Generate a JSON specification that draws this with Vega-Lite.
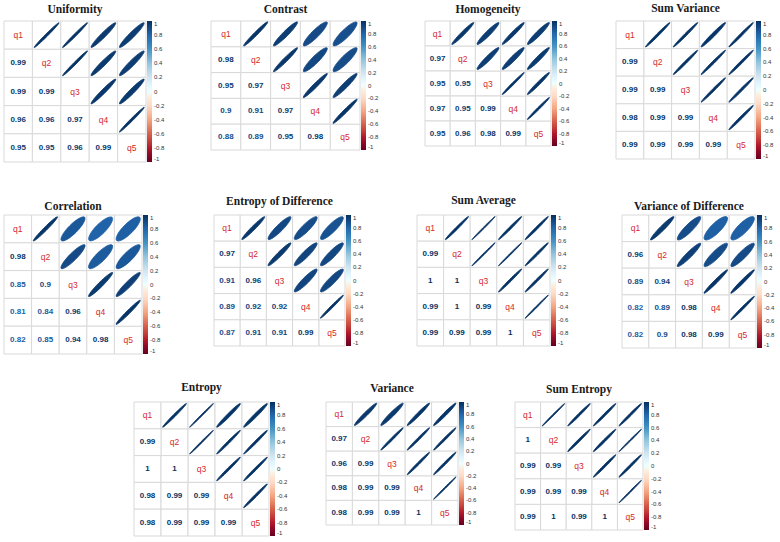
{
"$schema": "https://vega.github.io/schema/vega-lite/v6.json",
"background": "#ffffff",
"padding": {"left": 3, "top": 3, "right": 0, "bottom": 0},
"datasets": {
"uni": [
{"y":"q1","x":"q1","r":1,"k":"d"},{"y":"q2","x":"q2","r":1,"k":"d"},{"y":"q3","x":"q3","r":1,"k":"d"},{"y":"q4","x":"q4","r":1,"k":"d"},{"y":"q5","x":"q5","r":1,"k":"d"},
{"y":"q2","x":"q1","r":0.99,"k":"n"},{"y":"q3","x":"q1","r":0.99,"k":"n"},{"y":"q3","x":"q2","r":0.99,"k":"n"},{"y":"q4","x":"q1","r":0.96,"k":"n"},{"y":"q4","x":"q2","r":0.96,"k":"n"},{"y":"q4","x":"q3","r":0.97,"k":"n"},{"y":"q5","x":"q1","r":0.95,"k":"n"},{"y":"q5","x":"q2","r":0.95,"k":"n"},{"y":"q5","x":"q3","r":0.96,"k":"n"},{"y":"q5","x":"q4","r":0.99,"k":"n"},
{"y":"q1","x":"q2","r":0.99,"k":"e"},{"y":"q1","x":"q3","r":0.99,"k":"e"},{"y":"q2","x":"q3","r":0.99,"k":"e"},{"y":"q1","x":"q4","r":0.96,"k":"e"},{"y":"q2","x":"q4","r":0.96,"k":"e"},{"y":"q3","x":"q4","r":0.97,"k":"e"},{"y":"q1","x":"q5","r":0.95,"k":"e"},{"y":"q2","x":"q5","r":0.95,"k":"e"},{"y":"q3","x":"q5","r":0.96,"k":"e"},{"y":"q4","x":"q5","r":0.99,"k":"e"}
],
"con": [
{"y":"q1","x":"q1","r":1,"k":"d"},{"y":"q2","x":"q2","r":1,"k":"d"},{"y":"q3","x":"q3","r":1,"k":"d"},{"y":"q4","x":"q4","r":1,"k":"d"},{"y":"q5","x":"q5","r":1,"k":"d"},
{"y":"q2","x":"q1","r":0.98,"k":"n"},{"y":"q3","x":"q1","r":0.95,"k":"n"},{"y":"q3","x":"q2","r":0.97,"k":"n"},{"y":"q4","x":"q1","r":0.9,"k":"n"},{"y":"q4","x":"q2","r":0.91,"k":"n"},{"y":"q4","x":"q3","r":0.97,"k":"n"},{"y":"q5","x":"q1","r":0.88,"k":"n"},{"y":"q5","x":"q2","r":0.89,"k":"n"},{"y":"q5","x":"q3","r":0.95,"k":"n"},{"y":"q5","x":"q4","r":0.98,"k":"n"},
{"y":"q1","x":"q2","r":0.98,"k":"e"},{"y":"q1","x":"q3","r":0.95,"k":"e"},{"y":"q2","x":"q3","r":0.97,"k":"e"},{"y":"q1","x":"q4","r":0.9,"k":"e"},{"y":"q2","x":"q4","r":0.91,"k":"e"},{"y":"q3","x":"q4","r":0.97,"k":"e"},{"y":"q1","x":"q5","r":0.88,"k":"e"},{"y":"q2","x":"q5","r":0.89,"k":"e"},{"y":"q3","x":"q5","r":0.95,"k":"e"},{"y":"q4","x":"q5","r":0.98,"k":"e"}
],
"hom": [
{"y":"q1","x":"q1","r":1,"k":"d"},{"y":"q2","x":"q2","r":1,"k":"d"},{"y":"q3","x":"q3","r":1,"k":"d"},{"y":"q4","x":"q4","r":1,"k":"d"},{"y":"q5","x":"q5","r":1,"k":"d"},
{"y":"q2","x":"q1","r":0.97,"k":"n"},{"y":"q3","x":"q1","r":0.95,"k":"n"},{"y":"q3","x":"q2","r":0.95,"k":"n"},{"y":"q4","x":"q1","r":0.97,"k":"n"},{"y":"q4","x":"q2","r":0.95,"k":"n"},{"y":"q4","x":"q3","r":0.99,"k":"n"},{"y":"q5","x":"q1","r":0.95,"k":"n"},{"y":"q5","x":"q2","r":0.96,"k":"n"},{"y":"q5","x":"q3","r":0.98,"k":"n"},{"y":"q5","x":"q4","r":0.99,"k":"n"},
{"y":"q1","x":"q2","r":0.97,"k":"e"},{"y":"q1","x":"q3","r":0.95,"k":"e"},{"y":"q2","x":"q3","r":0.95,"k":"e"},{"y":"q1","x":"q4","r":0.97,"k":"e"},{"y":"q2","x":"q4","r":0.95,"k":"e"},{"y":"q3","x":"q4","r":0.99,"k":"e"},{"y":"q1","x":"q5","r":0.95,"k":"e"},{"y":"q2","x":"q5","r":0.96,"k":"e"},{"y":"q3","x":"q5","r":0.98,"k":"e"},{"y":"q4","x":"q5","r":0.99,"k":"e"}
],
"sva": [
{"y":"q1","x":"q1","r":1,"k":"d"},{"y":"q2","x":"q2","r":1,"k":"d"},{"y":"q3","x":"q3","r":1,"k":"d"},{"y":"q4","x":"q4","r":1,"k":"d"},{"y":"q5","x":"q5","r":1,"k":"d"},
{"y":"q2","x":"q1","r":0.99,"k":"n"},{"y":"q3","x":"q1","r":0.99,"k":"n"},{"y":"q3","x":"q2","r":0.99,"k":"n"},{"y":"q4","x":"q1","r":0.98,"k":"n"},{"y":"q4","x":"q2","r":0.99,"k":"n"},{"y":"q4","x":"q3","r":0.99,"k":"n"},{"y":"q5","x":"q1","r":0.99,"k":"n"},{"y":"q5","x":"q2","r":0.99,"k":"n"},{"y":"q5","x":"q3","r":0.99,"k":"n"},{"y":"q5","x":"q4","r":0.99,"k":"n"},
{"y":"q1","x":"q2","r":0.99,"k":"e"},{"y":"q1","x":"q3","r":0.99,"k":"e"},{"y":"q2","x":"q3","r":0.99,"k":"e"},{"y":"q1","x":"q4","r":0.98,"k":"e"},{"y":"q2","x":"q4","r":0.99,"k":"e"},{"y":"q3","x":"q4","r":0.99,"k":"e"},{"y":"q1","x":"q5","r":0.99,"k":"e"},{"y":"q2","x":"q5","r":0.99,"k":"e"},{"y":"q3","x":"q5","r":0.99,"k":"e"},{"y":"q4","x":"q5","r":0.99,"k":"e"}
],
"cor": [
{"y":"q1","x":"q1","r":1,"k":"d"},{"y":"q2","x":"q2","r":1,"k":"d"},{"y":"q3","x":"q3","r":1,"k":"d"},{"y":"q4","x":"q4","r":1,"k":"d"},{"y":"q5","x":"q5","r":1,"k":"d"},
{"y":"q2","x":"q1","r":0.98,"k":"n"},{"y":"q3","x":"q1","r":0.85,"k":"n"},{"y":"q3","x":"q2","r":0.9,"k":"n"},{"y":"q4","x":"q1","r":0.81,"k":"n"},{"y":"q4","x":"q2","r":0.84,"k":"n"},{"y":"q4","x":"q3","r":0.96,"k":"n"},{"y":"q5","x":"q1","r":0.82,"k":"n"},{"y":"q5","x":"q2","r":0.85,"k":"n"},{"y":"q5","x":"q3","r":0.94,"k":"n"},{"y":"q5","x":"q4","r":0.98,"k":"n"},
{"y":"q1","x":"q2","r":0.98,"k":"e"},{"y":"q1","x":"q3","r":0.85,"k":"e"},{"y":"q2","x":"q3","r":0.9,"k":"e"},{"y":"q1","x":"q4","r":0.81,"k":"e"},{"y":"q2","x":"q4","r":0.84,"k":"e"},{"y":"q3","x":"q4","r":0.96,"k":"e"},{"y":"q1","x":"q5","r":0.82,"k":"e"},{"y":"q2","x":"q5","r":0.85,"k":"e"},{"y":"q3","x":"q5","r":0.94,"k":"e"},{"y":"q4","x":"q5","r":0.98,"k":"e"}
],
"eod": [
{"y":"q1","x":"q1","r":1,"k":"d"},{"y":"q2","x":"q2","r":1,"k":"d"},{"y":"q3","x":"q3","r":1,"k":"d"},{"y":"q4","x":"q4","r":1,"k":"d"},{"y":"q5","x":"q5","r":1,"k":"d"},
{"y":"q2","x":"q1","r":0.97,"k":"n"},{"y":"q3","x":"q1","r":0.91,"k":"n"},{"y":"q3","x":"q2","r":0.96,"k":"n"},{"y":"q4","x":"q1","r":0.89,"k":"n"},{"y":"q4","x":"q2","r":0.92,"k":"n"},{"y":"q4","x":"q3","r":0.92,"k":"n"},{"y":"q5","x":"q1","r":0.87,"k":"n"},{"y":"q5","x":"q2","r":0.91,"k":"n"},{"y":"q5","x":"q3","r":0.91,"k":"n"},{"y":"q5","x":"q4","r":0.99,"k":"n"},
{"y":"q1","x":"q2","r":0.97,"k":"e"},{"y":"q1","x":"q3","r":0.91,"k":"e"},{"y":"q2","x":"q3","r":0.96,"k":"e"},{"y":"q1","x":"q4","r":0.89,"k":"e"},{"y":"q2","x":"q4","r":0.92,"k":"e"},{"y":"q3","x":"q4","r":0.92,"k":"e"},{"y":"q1","x":"q5","r":0.87,"k":"e"},{"y":"q2","x":"q5","r":0.91,"k":"e"},{"y":"q3","x":"q5","r":0.91,"k":"e"},{"y":"q4","x":"q5","r":0.99,"k":"e"}
],
"sav": [
{"y":"q1","x":"q1","r":1,"k":"d"},{"y":"q2","x":"q2","r":1,"k":"d"},{"y":"q3","x":"q3","r":1,"k":"d"},{"y":"q4","x":"q4","r":1,"k":"d"},{"y":"q5","x":"q5","r":1,"k":"d"},
{"y":"q2","x":"q1","r":0.99,"k":"n"},{"y":"q3","x":"q1","r":1,"k":"n"},{"y":"q3","x":"q2","r":1,"k":"n"},{"y":"q4","x":"q1","r":0.99,"k":"n"},{"y":"q4","x":"q2","r":1,"k":"n"},{"y":"q4","x":"q3","r":0.99,"k":"n"},{"y":"q5","x":"q1","r":0.99,"k":"n"},{"y":"q5","x":"q2","r":0.99,"k":"n"},{"y":"q5","x":"q3","r":0.99,"k":"n"},{"y":"q5","x":"q4","r":1,"k":"n"},
{"y":"q1","x":"q2","r":0.99,"k":"e"},{"y":"q1","x":"q3","r":1,"k":"e"},{"y":"q2","x":"q3","r":1,"k":"e"},{"y":"q1","x":"q4","r":0.99,"k":"e"},{"y":"q2","x":"q4","r":1,"k":"e"},{"y":"q3","x":"q4","r":0.99,"k":"e"},{"y":"q1","x":"q5","r":0.99,"k":"e"},{"y":"q2","x":"q5","r":0.99,"k":"e"},{"y":"q3","x":"q5","r":0.99,"k":"e"},{"y":"q4","x":"q5","r":1,"k":"e"}
],
"vod": [
{"y":"q1","x":"q1","r":1,"k":"d"},{"y":"q2","x":"q2","r":1,"k":"d"},{"y":"q3","x":"q3","r":1,"k":"d"},{"y":"q4","x":"q4","r":1,"k":"d"},{"y":"q5","x":"q5","r":1,"k":"d"},
{"y":"q2","x":"q1","r":0.96,"k":"n"},{"y":"q3","x":"q1","r":0.89,"k":"n"},{"y":"q3","x":"q2","r":0.94,"k":"n"},{"y":"q4","x":"q1","r":0.82,"k":"n"},{"y":"q4","x":"q2","r":0.89,"k":"n"},{"y":"q4","x":"q3","r":0.98,"k":"n"},{"y":"q5","x":"q1","r":0.82,"k":"n"},{"y":"q5","x":"q2","r":0.9,"k":"n"},{"y":"q5","x":"q3","r":0.98,"k":"n"},{"y":"q5","x":"q4","r":0.99,"k":"n"},
{"y":"q1","x":"q2","r":0.96,"k":"e"},{"y":"q1","x":"q3","r":0.89,"k":"e"},{"y":"q2","x":"q3","r":0.94,"k":"e"},{"y":"q1","x":"q4","r":0.82,"k":"e"},{"y":"q2","x":"q4","r":0.89,"k":"e"},{"y":"q3","x":"q4","r":0.98,"k":"e"},{"y":"q1","x":"q5","r":0.82,"k":"e"},{"y":"q2","x":"q5","r":0.9,"k":"e"},{"y":"q3","x":"q5","r":0.98,"k":"e"},{"y":"q4","x":"q5","r":0.99,"k":"e"}
],
"ent": [
{"y":"q1","x":"q1","r":1,"k":"d"},{"y":"q2","x":"q2","r":1,"k":"d"},{"y":"q3","x":"q3","r":1,"k":"d"},{"y":"q4","x":"q4","r":1,"k":"d"},{"y":"q5","x":"q5","r":1,"k":"d"},
{"y":"q2","x":"q1","r":0.99,"k":"n"},{"y":"q3","x":"q1","r":1,"k":"n"},{"y":"q3","x":"q2","r":1,"k":"n"},{"y":"q4","x":"q1","r":0.98,"k":"n"},{"y":"q4","x":"q2","r":0.99,"k":"n"},{"y":"q4","x":"q3","r":0.99,"k":"n"},{"y":"q5","x":"q1","r":0.98,"k":"n"},{"y":"q5","x":"q2","r":0.99,"k":"n"},{"y":"q5","x":"q3","r":0.99,"k":"n"},{"y":"q5","x":"q4","r":0.99,"k":"n"},
{"y":"q1","x":"q2","r":0.99,"k":"e"},{"y":"q1","x":"q3","r":1,"k":"e"},{"y":"q2","x":"q3","r":1,"k":"e"},{"y":"q1","x":"q4","r":0.98,"k":"e"},{"y":"q2","x":"q4","r":0.99,"k":"e"},{"y":"q3","x":"q4","r":0.99,"k":"e"},{"y":"q1","x":"q5","r":0.98,"k":"e"},{"y":"q2","x":"q5","r":0.99,"k":"e"},{"y":"q3","x":"q5","r":0.99,"k":"e"},{"y":"q4","x":"q5","r":0.99,"k":"e"}
],
"var": [
{"y":"q1","x":"q1","r":1,"k":"d"},{"y":"q2","x":"q2","r":1,"k":"d"},{"y":"q3","x":"q3","r":1,"k":"d"},{"y":"q4","x":"q4","r":1,"k":"d"},{"y":"q5","x":"q5","r":1,"k":"d"},
{"y":"q2","x":"q1","r":0.97,"k":"n"},{"y":"q3","x":"q1","r":0.96,"k":"n"},{"y":"q3","x":"q2","r":0.99,"k":"n"},{"y":"q4","x":"q1","r":0.98,"k":"n"},{"y":"q4","x":"q2","r":0.99,"k":"n"},{"y":"q4","x":"q3","r":0.99,"k":"n"},{"y":"q5","x":"q1","r":0.98,"k":"n"},{"y":"q5","x":"q2","r":0.99,"k":"n"},{"y":"q5","x":"q3","r":0.99,"k":"n"},{"y":"q5","x":"q4","r":1,"k":"n"},
{"y":"q1","x":"q2","r":0.97,"k":"e"},{"y":"q1","x":"q3","r":0.96,"k":"e"},{"y":"q2","x":"q3","r":0.99,"k":"e"},{"y":"q1","x":"q4","r":0.98,"k":"e"},{"y":"q2","x":"q4","r":0.99,"k":"e"},{"y":"q3","x":"q4","r":0.99,"k":"e"},{"y":"q1","x":"q5","r":0.98,"k":"e"},{"y":"q2","x":"q5","r":0.99,"k":"e"},{"y":"q3","x":"q5","r":0.99,"k":"e"},{"y":"q4","x":"q5","r":1,"k":"e"}
],
"sen": [
{"y":"q1","x":"q1","r":1,"k":"d"},{"y":"q2","x":"q2","r":1,"k":"d"},{"y":"q3","x":"q3","r":1,"k":"d"},{"y":"q4","x":"q4","r":1,"k":"d"},{"y":"q5","x":"q5","r":1,"k":"d"},
{"y":"q2","x":"q1","r":1,"k":"n"},{"y":"q3","x":"q1","r":0.99,"k":"n"},{"y":"q3","x":"q2","r":0.99,"k":"n"},{"y":"q4","x":"q1","r":0.99,"k":"n"},{"y":"q4","x":"q2","r":0.99,"k":"n"},{"y":"q4","x":"q3","r":0.99,"k":"n"},{"y":"q5","x":"q1","r":0.99,"k":"n"},{"y":"q5","x":"q2","r":1,"k":"n"},{"y":"q5","x":"q3","r":0.99,"k":"n"},{"y":"q5","x":"q4","r":1,"k":"n"},
{"y":"q1","x":"q2","r":1,"k":"e"},{"y":"q1","x":"q3","r":0.99,"k":"e"},{"y":"q2","x":"q3","r":0.99,"k":"e"},{"y":"q1","x":"q4","r":0.99,"k":"e"},{"y":"q2","x":"q4","r":0.99,"k":"e"},{"y":"q3","x":"q4","r":0.99,"k":"e"},{"y":"q1","x":"q5","r":0.99,"k":"e"},{"y":"q2","x":"q5","r":1,"k":"e"},{"y":"q3","x":"q5","r":0.99,"k":"e"},{"y":"q4","x":"q5","r":1,"k":"e"}
]
},
"spacing": 32,
"resolve": {"scale": {"color": "independent"}},
"vconcat": [
{
"hconcat": [
{"title": {"text": "Uniformity", "offset": 5}, "width": 142, "height": 141, "data": {"name": "uni"},
 "encoding": {"x": {"field": "x", "type": "nominal", "axis": null, "scale": {"domain": ["q1","q2","q3","q4","q5"], "paddingInner": 0, "paddingOuter": 0}}, "y": {"field": "y", "type": "nominal", "axis": null, "scale": {"domain": ["q1","q2","q3","q4","q5"], "paddingInner": 0, "paddingOuter": 0}}},
 "layer": [
  {"mark": {"type": "rect", "fill": "#ffffff", "stroke": "#d9d9d9", "strokeWidth": 1}},
  {"transform": [{"filter": "datum.k == 'n'"}], "mark": {"type": "text", "fontSize": 8, "fontWeight": "bold"}, "encoding": {"text": {"field": "r", "type": "nominal"}, "color": {"field": "r", "type": "quantitative", "scale": {"type": "linear", "domain": [-1,-0.8,-0.6,-0.4,-0.2,0,0.2,0.4,0.6,0.8,1], "range": ["#67001F","#B2182B","#D6604D","#F4A582","#FDDBC7","#FFFFFF","#D1E5F0","#92C5DE","#4393C3","#2166AC","#053061"]}, "legend": {"title": null, "values": [-1,-0.8,-0.6,-0.4,-0.2,0,0.2,0.4,0.6,0.8,1], "gradientLength": 141, "labelExpr": "'' + datum.value"}}}},
  {"transform": [{"filter": "datum.k == 'd'"}], "mark": {"type": "text", "fontSize": 8.5, "color": "#d42a2a"}, "encoding": {"text": {"field": "y", "type": "nominal"}}},
  {"transform": [{"filter": "datum.k == 'e'"}], "mark": {"type": "point", "filled": true, "opacity": 1, "size": 801, "strokeWidth": 0.8}, "encoding": {"shape": {"field": "r", "type": "nominal", "scale": {"domain": [0.81,0.82,0.84,0.85,0.87,0.88,0.89,0.9,0.91,0.92,0.94,0.95,0.96,0.97,0.98,0.99,1]}, "legend": null}, "color": {"field": "r", "type": "quantitative"}, "stroke": {"field": "r", "type": "quantitative", "scale": {"type": "linear", "domain": [-1,-0.8,-0.6,-0.4,-0.2,0,0.2,0.4,0.6,0.8,1], "range": ["#67001F","#B2182B","#D6604D","#F4A582","#FDDBC7","#FFFFFF","#D1E5F0","#92C5DE","#4393C3","#2166AC","#053061"]}, "legend": null}}}
 ]},
{"title": {"text": "Contrast", "offset": 5}, "width": 149, "height": 129, "data": {"name": "con"},
 "encoding": {"x": {"field": "x", "type": "nominal", "axis": null, "scale": {"domain": ["q1","q2","q3","q4","q5"], "paddingInner": 0, "paddingOuter": 0}}, "y": {"field": "y", "type": "nominal", "axis": null, "scale": {"domain": ["q1","q2","q3","q4","q5"], "paddingInner": 0, "paddingOuter": 0}}},
 "layer": [
  {"mark": {"type": "rect", "fill": "#ffffff", "stroke": "#d9d9d9", "strokeWidth": 1}},
  {"transform": [{"filter": "datum.k == 'n'"}], "mark": {"type": "text", "fontSize": 8, "fontWeight": "bold"}, "encoding": {"text": {"field": "r", "type": "nominal"}, "color": {"field": "r", "type": "quantitative", "scale": {"type": "linear", "domain": [-1,-0.8,-0.6,-0.4,-0.2,0,0.2,0.4,0.6,0.8,1], "range": ["#67001F","#B2182B","#D6604D","#F4A582","#FDDBC7","#FFFFFF","#D1E5F0","#92C5DE","#4393C3","#2166AC","#053061"]}, "legend": {"title": null, "values": [-1,-0.8,-0.6,-0.4,-0.2,0,0.2,0.4,0.6,0.8,1], "gradientLength": 129, "labelExpr": "'' + datum.value"}}}},
  {"transform": [{"filter": "datum.k == 'd'"}], "mark": {"type": "text", "fontSize": 8.5, "color": "#d42a2a"}, "encoding": {"text": {"field": "y", "type": "nominal"}}},
  {"transform": [{"filter": "datum.k == 'e'"}], "mark": {"type": "point", "filled": true, "opacity": 1, "size": 756, "strokeWidth": 0.8}, "encoding": {"shape": {"field": "r", "type": "nominal", "scale": {"domain": [0.81,0.82,0.84,0.85,0.87,0.88,0.89,0.9,0.91,0.92,0.94,0.95,0.96,0.97,0.98,0.99,1]}, "legend": null}, "color": {"field": "r", "type": "quantitative"}, "stroke": {"field": "r", "type": "quantitative", "scale": {"type": "linear", "domain": [-1,-0.8,-0.6,-0.4,-0.2,0,0.2,0.4,0.6,0.8,1], "range": ["#67001F","#B2182B","#D6604D","#F4A582","#FDDBC7","#FFFFFF","#D1E5F0","#92C5DE","#4393C3","#2166AC","#053061"]}, "legend": null}}}
 ]},
{"title": {"text": "Homogeneity", "offset": 5}, "width": 126, "height": 125, "data": {"name": "hom"},
 "encoding": {"x": {"field": "x", "type": "nominal", "axis": null, "scale": {"domain": ["q1","q2","q3","q4","q5"], "paddingInner": 0, "paddingOuter": 0}}, "y": {"field": "y", "type": "nominal", "axis": null, "scale": {"domain": ["q1","q2","q3","q4","q5"], "paddingInner": 0, "paddingOuter": 0}}},
 "layer": [
  {"mark": {"type": "rect", "fill": "#ffffff", "stroke": "#d9d9d9", "strokeWidth": 1}},
  {"transform": [{"filter": "datum.k == 'n'"}], "mark": {"type": "text", "fontSize": 8, "fontWeight": "bold"}, "encoding": {"text": {"field": "r", "type": "nominal"}, "color": {"field": "r", "type": "quantitative", "scale": {"type": "linear", "domain": [-1,-0.8,-0.6,-0.4,-0.2,0,0.2,0.4,0.6,0.8,1], "range": ["#67001F","#B2182B","#D6604D","#F4A582","#FDDBC7","#FFFFFF","#D1E5F0","#92C5DE","#4393C3","#2166AC","#053061"]}, "legend": {"title": null, "values": [-1,-0.8,-0.6,-0.4,-0.2,0,0.2,0.4,0.6,0.8,1], "gradientLength": 125, "labelExpr": "'' + datum.value"}}}},
  {"transform": [{"filter": "datum.k == 'd'"}], "mark": {"type": "text", "fontSize": 8.5, "color": "#d42a2a"}, "encoding": {"text": {"field": "y", "type": "nominal"}}},
  {"transform": [{"filter": "datum.k == 'e'"}], "mark": {"type": "point", "filled": true, "opacity": 1, "size": 630, "strokeWidth": 0.8}, "encoding": {"shape": {"field": "r", "type": "nominal", "scale": {"domain": [0.81,0.82,0.84,0.85,0.87,0.88,0.89,0.9,0.91,0.92,0.94,0.95,0.96,0.97,0.98,0.99,1]}, "legend": null}, "color": {"field": "r", "type": "quantitative"}, "stroke": {"field": "r", "type": "quantitative", "scale": {"type": "linear", "domain": [-1,-0.8,-0.6,-0.4,-0.2,0,0.2,0.4,0.6,0.8,1], "range": ["#67001F","#B2182B","#D6604D","#F4A582","#FDDBC7","#FFFFFF","#D1E5F0","#92C5DE","#4393C3","#2166AC","#053061"]}, "legend": null}}}
 ]},
{"title": {"text": "Sum Variance", "offset": 6}, "width": 139, "height": 138, "data": {"name": "sva"},
 "encoding": {"x": {"field": "x", "type": "nominal", "axis": null, "scale": {"domain": ["q1","q2","q3","q4","q5"], "paddingInner": 0, "paddingOuter": 0}}, "y": {"field": "y", "type": "nominal", "axis": null, "scale": {"domain": ["q1","q2","q3","q4","q5"], "paddingInner": 0, "paddingOuter": 0}}},
 "layer": [
  {"mark": {"type": "rect", "fill": "#ffffff", "stroke": "#d9d9d9", "strokeWidth": 1}},
  {"transform": [{"filter": "datum.k == 'n'"}], "mark": {"type": "text", "fontSize": 8, "fontWeight": "bold"}, "encoding": {"text": {"field": "r", "type": "nominal"}, "color": {"field": "r", "type": "quantitative", "scale": {"type": "linear", "domain": [-1,-0.8,-0.6,-0.4,-0.2,0,0.2,0.4,0.6,0.8,1], "range": ["#67001F","#B2182B","#D6604D","#F4A582","#FDDBC7","#FFFFFF","#D1E5F0","#92C5DE","#4393C3","#2166AC","#053061"]}, "legend": {"title": null, "values": [-1,-0.8,-0.6,-0.4,-0.2,0,0.2,0.4,0.6,0.8,1], "gradientLength": 138, "labelExpr": "'' + datum.value"}}}},
  {"transform": [{"filter": "datum.k == 'd'"}], "mark": {"type": "text", "fontSize": 8.5, "color": "#d42a2a"}, "encoding": {"text": {"field": "y", "type": "nominal"}}},
  {"transform": [{"filter": "datum.k == 'e'"}], "mark": {"type": "point", "filled": true, "opacity": 1, "size": 773, "strokeWidth": 0.8}, "encoding": {"shape": {"field": "r", "type": "nominal", "scale": {"domain": [0.81,0.82,0.84,0.85,0.87,0.88,0.89,0.9,0.91,0.92,0.94,0.95,0.96,0.97,0.98,0.99,1]}, "legend": null}, "color": {"field": "r", "type": "quantitative"}, "stroke": {"field": "r", "type": "quantitative", "scale": {"type": "linear", "domain": [-1,-0.8,-0.6,-0.4,-0.2,0,0.2,0.4,0.6,0.8,1], "range": ["#67001F","#B2182B","#D6604D","#F4A582","#FDDBC7","#FFFFFF","#D1E5F0","#92C5DE","#4393C3","#2166AC","#053061"]}, "legend": null}}}
 ]}
],
"spacing": 45,
"resolve": {"scale": {"color": "independent"}}
},
{
"spacing": 27,
"resolve": {"scale": {"color": "independent"}},
"vconcat": [
{
"hconcat": [
{"title": {"text": "Correlation", "offset": 2}, "width": 138, "height": 139, "data": {"name": "cor"},
 "encoding": {"x": {"field": "x", "type": "nominal", "axis": null, "scale": {"domain": ["q1","q2","q3","q4","q5"], "paddingInner": 0, "paddingOuter": 0}}, "y": {"field": "y", "type": "nominal", "axis": null, "scale": {"domain": ["q1","q2","q3","q4","q5"], "paddingInner": 0, "paddingOuter": 0}}},
 "layer": [
  {"mark": {"type": "rect", "fill": "#ffffff", "stroke": "#d9d9d9", "strokeWidth": 1}},
  {"transform": [{"filter": "datum.k == 'n'"}], "mark": {"type": "text", "fontSize": 8, "fontWeight": "bold"}, "encoding": {"text": {"field": "r", "type": "nominal"}, "color": {"field": "r", "type": "quantitative", "scale": {"type": "linear", "domain": [-1,-0.8,-0.6,-0.4,-0.2,0,0.2,0.4,0.6,0.8,1], "range": ["#67001F","#B2182B","#D6604D","#F4A582","#FDDBC7","#FFFFFF","#D1E5F0","#92C5DE","#4393C3","#2166AC","#053061"]}, "legend": {"title": null, "values": [-1,-0.8,-0.6,-0.4,-0.2,0,0.2,0.4,0.6,0.8,1], "gradientLength": 139, "labelExpr": "'' + datum.value"}}}},
  {"transform": [{"filter": "datum.k == 'd'"}], "mark": {"type": "text", "fontSize": 8.5, "color": "#d42a2a"}, "encoding": {"text": {"field": "y", "type": "nominal"}}},
  {"transform": [{"filter": "datum.k == 'e'"}], "mark": {"type": "point", "filled": true, "opacity": 1, "size": 762, "strokeWidth": 0.8}, "encoding": {"shape": {"field": "r", "type": "nominal", "scale": {"domain": [0.81,0.82,0.84,0.85,0.87,0.88,0.89,0.9,0.91,0.92,0.94,0.95,0.96,0.97,0.98,0.99,1]}, "legend": null}, "color": {"field": "r", "type": "quantitative"}, "stroke": {"field": "r", "type": "quantitative", "scale": {"type": "linear", "domain": [-1,-0.8,-0.6,-0.4,-0.2,0,0.2,0.4,0.6,0.8,1], "range": ["#67001F","#B2182B","#D6604D","#F4A582","#FDDBC7","#FFFFFF","#D1E5F0","#92C5DE","#4393C3","#2166AC","#053061"]}, "legend": null}}}
 ]},
{"title": {"text": "Entropy of Difference", "offset": 7}, "width": 131, "height": 131, "data": {"name": "eod"},
 "encoding": {"x": {"field": "x", "type": "nominal", "axis": null, "scale": {"domain": ["q1","q2","q3","q4","q5"], "paddingInner": 0, "paddingOuter": 0}}, "y": {"field": "y", "type": "nominal", "axis": null, "scale": {"domain": ["q1","q2","q3","q4","q5"], "paddingInner": 0, "paddingOuter": 0}}},
 "layer": [
  {"mark": {"type": "rect", "fill": "#ffffff", "stroke": "#d9d9d9", "strokeWidth": 1}},
  {"transform": [{"filter": "datum.k == 'n'"}], "mark": {"type": "text", "fontSize": 8, "fontWeight": "bold"}, "encoding": {"text": {"field": "r", "type": "nominal"}, "color": {"field": "r", "type": "quantitative", "scale": {"type": "linear", "domain": [-1,-0.8,-0.6,-0.4,-0.2,0,0.2,0.4,0.6,0.8,1], "range": ["#67001F","#B2182B","#D6604D","#F4A582","#FDDBC7","#FFFFFF","#D1E5F0","#92C5DE","#4393C3","#2166AC","#053061"]}, "legend": {"title": null, "values": [-1,-0.8,-0.6,-0.4,-0.2,0,0.2,0.4,0.6,0.8,1], "gradientLength": 131, "labelExpr": "'' + datum.value"}}}},
  {"transform": [{"filter": "datum.k == 'd'"}], "mark": {"type": "text", "fontSize": 8.5, "color": "#d42a2a"}, "encoding": {"text": {"field": "y", "type": "nominal"}}},
  {"transform": [{"filter": "datum.k == 'e'"}], "mark": {"type": "point", "filled": true, "opacity": 1, "size": 686, "strokeWidth": 0.8}, "encoding": {"shape": {"field": "r", "type": "nominal", "scale": {"domain": [0.81,0.82,0.84,0.85,0.87,0.88,0.89,0.9,0.91,0.92,0.94,0.95,0.96,0.97,0.98,0.99,1]}, "legend": null}, "color": {"field": "r", "type": "quantitative"}, "stroke": {"field": "r", "type": "quantitative", "scale": {"type": "linear", "domain": [-1,-0.8,-0.6,-0.4,-0.2,0,0.2,0.4,0.6,0.8,1], "range": ["#67001F","#B2182B","#D6604D","#F4A582","#FDDBC7","#FFFFFF","#D1E5F0","#92C5DE","#4393C3","#2166AC","#053061"]}, "legend": null}}}
 ]},
{"title": {"text": "Sum Average", "offset": 8}, "width": 133, "height": 131, "data": {"name": "sav"},
 "encoding": {"x": {"field": "x", "type": "nominal", "axis": null, "scale": {"domain": ["q1","q2","q3","q4","q5"], "paddingInner": 0, "paddingOuter": 0}}, "y": {"field": "y", "type": "nominal", "axis": null, "scale": {"domain": ["q1","q2","q3","q4","q5"], "paddingInner": 0, "paddingOuter": 0}}},
 "layer": [
  {"mark": {"type": "rect", "fill": "#ffffff", "stroke": "#d9d9d9", "strokeWidth": 1}},
  {"transform": [{"filter": "datum.k == 'n'"}], "mark": {"type": "text", "fontSize": 8, "fontWeight": "bold"}, "encoding": {"text": {"field": "r", "type": "nominal"}, "color": {"field": "r", "type": "quantitative", "scale": {"type": "linear", "domain": [-1,-0.8,-0.6,-0.4,-0.2,0,0.2,0.4,0.6,0.8,1], "range": ["#67001F","#B2182B","#D6604D","#F4A582","#FDDBC7","#FFFFFF","#D1E5F0","#92C5DE","#4393C3","#2166AC","#053061"]}, "legend": {"title": null, "values": [-1,-0.8,-0.6,-0.4,-0.2,0,0.2,0.4,0.6,0.8,1], "gradientLength": 131, "labelExpr": "'' + datum.value"}}}},
  {"transform": [{"filter": "datum.k == 'd'"}], "mark": {"type": "text", "fontSize": 8.5, "color": "#d42a2a"}, "encoding": {"text": {"field": "y", "type": "nominal"}}},
  {"transform": [{"filter": "datum.k == 'e'"}], "mark": {"type": "point", "filled": true, "opacity": 1, "size": 697, "strokeWidth": 0.8}, "encoding": {"shape": {"field": "r", "type": "nominal", "scale": {"domain": [0.81,0.82,0.84,0.85,0.87,0.88,0.89,0.9,0.91,0.92,0.94,0.95,0.96,0.97,0.98,0.99,1]}, "legend": null}, "color": {"field": "r", "type": "quantitative"}, "stroke": {"field": "r", "type": "quantitative", "scale": {"type": "linear", "domain": [-1,-0.8,-0.6,-0.4,-0.2,0,0.2,0.4,0.6,0.8,1], "range": ["#67001F","#B2182B","#D6604D","#F4A582","#FDDBC7","#FFFFFF","#D1E5F0","#92C5DE","#4393C3","#2166AC","#053061"]}, "legend": null}}}
 ]},
{"title": {"text": "Variance of Difference", "offset": 2}, "width": 134, "height": 133, "data": {"name": "vod"},
 "encoding": {"x": {"field": "x", "type": "nominal", "axis": null, "scale": {"domain": ["q1","q2","q3","q4","q5"], "paddingInner": 0, "paddingOuter": 0}}, "y": {"field": "y", "type": "nominal", "axis": null, "scale": {"domain": ["q1","q2","q3","q4","q5"], "paddingInner": 0, "paddingOuter": 0}}},
 "layer": [
  {"mark": {"type": "rect", "fill": "#ffffff", "stroke": "#d9d9d9", "strokeWidth": 1}},
  {"transform": [{"filter": "datum.k == 'n'"}], "mark": {"type": "text", "fontSize": 8, "fontWeight": "bold"}, "encoding": {"text": {"field": "r", "type": "nominal"}, "color": {"field": "r", "type": "quantitative", "scale": {"type": "linear", "domain": [-1,-0.8,-0.6,-0.4,-0.2,0,0.2,0.4,0.6,0.8,1], "range": ["#67001F","#B2182B","#D6604D","#F4A582","#FDDBC7","#FFFFFF","#D1E5F0","#92C5DE","#4393C3","#2166AC","#053061"]}, "legend": {"title": null, "values": [-1,-0.8,-0.6,-0.4,-0.2,0,0.2,0.4,0.6,0.8,1], "gradientLength": 133, "labelExpr": "'' + datum.value"}}}},
  {"transform": [{"filter": "datum.k == 'd'"}], "mark": {"type": "text", "fontSize": 8.5, "color": "#d42a2a"}, "encoding": {"text": {"field": "y", "type": "nominal"}}},
  {"transform": [{"filter": "datum.k == 'e'"}], "mark": {"type": "point", "filled": true, "opacity": 1, "size": 718, "strokeWidth": 0.8}, "encoding": {"shape": {"field": "r", "type": "nominal", "scale": {"domain": [0.81,0.82,0.84,0.85,0.87,0.88,0.89,0.9,0.91,0.92,0.94,0.95,0.96,0.97,0.98,0.99,1]}, "legend": null}, "color": {"field": "r", "type": "quantitative"}, "stroke": {"field": "r", "type": "quantitative", "scale": {"type": "linear", "domain": [-1,-0.8,-0.6,-0.4,-0.2,0,0.2,0.4,0.6,0.8,1], "range": ["#67001F","#B2182B","#D6604D","#F4A582","#FDDBC7","#FFFFFF","#D1E5F0","#92C5DE","#4393C3","#2166AC","#053061"]}, "legend": null}}}
 ]}
],
"spacing": 52,
"resolve": {"scale": {"color": "independent"}}
},
{
"hconcat": [
{"width": 92, "height": 1, "data": {"values": []}, "mark": {"type": "rect"}, "encoding": {}, "view": {"fill": "#ffffff", "stroke": null}},
{"title": {"text": "Entropy", "offset": 8}, "width": 135, "height": 134, "data": {"name": "ent"},
 "encoding": {"x": {"field": "x", "type": "nominal", "axis": null, "scale": {"domain": ["q1","q2","q3","q4","q5"], "paddingInner": 0, "paddingOuter": 0}}, "y": {"field": "y", "type": "nominal", "axis": null, "scale": {"domain": ["q1","q2","q3","q4","q5"], "paddingInner": 0, "paddingOuter": 0}}},
 "layer": [
  {"mark": {"type": "rect", "fill": "#ffffff", "stroke": "#d9d9d9", "strokeWidth": 1}},
  {"transform": [{"filter": "datum.k == 'n'"}], "mark": {"type": "text", "fontSize": 8, "fontWeight": "bold"}, "encoding": {"text": {"field": "r", "type": "nominal"}, "color": {"field": "r", "type": "quantitative", "scale": {"type": "linear", "domain": [-1,-0.8,-0.6,-0.4,-0.2,0,0.2,0.4,0.6,0.8,1], "range": ["#67001F","#B2182B","#D6604D","#F4A582","#FDDBC7","#FFFFFF","#D1E5F0","#92C5DE","#4393C3","#2166AC","#053061"]}, "legend": {"title": null, "values": [-1,-0.8,-0.6,-0.4,-0.2,0,0.2,0.4,0.6,0.8,1], "gradientLength": 134, "labelExpr": "'' + datum.value"}}}},
  {"transform": [{"filter": "datum.k == 'd'"}], "mark": {"type": "text", "fontSize": 8.5, "color": "#d42a2a"}, "encoding": {"text": {"field": "y", "type": "nominal"}}},
  {"transform": [{"filter": "datum.k == 'e'"}], "mark": {"type": "point", "filled": true, "opacity": 1, "size": 729, "strokeWidth": 0.8}, "encoding": {"shape": {"field": "r", "type": "nominal", "scale": {"domain": [0.81,0.82,0.84,0.85,0.87,0.88,0.89,0.9,0.91,0.92,0.94,0.95,0.96,0.97,0.98,0.99,1]}, "legend": null}, "color": {"field": "r", "type": "quantitative"}, "stroke": {"field": "r", "type": "quantitative", "scale": {"type": "linear", "domain": [-1,-0.8,-0.6,-0.4,-0.2,0,0.2,0.4,0.6,0.8,1], "range": ["#67001F","#B2182B","#D6604D","#F4A582","#FDDBC7","#FFFFFF","#D1E5F0","#92C5DE","#4393C3","#2166AC","#053061"]}, "legend": null}}}
 ]},
{"title": {"text": "Variance", "offset": 7}, "width": 132, "height": 123, "data": {"name": "var"},
 "encoding": {"x": {"field": "x", "type": "nominal", "axis": null, "scale": {"domain": ["q1","q2","q3","q4","q5"], "paddingInner": 0, "paddingOuter": 0}}, "y": {"field": "y", "type": "nominal", "axis": null, "scale": {"domain": ["q1","q2","q3","q4","q5"], "paddingInner": 0, "paddingOuter": 0}}},
 "layer": [
  {"mark": {"type": "rect", "fill": "#ffffff", "stroke": "#d9d9d9", "strokeWidth": 1}},
  {"transform": [{"filter": "datum.k == 'n'"}], "mark": {"type": "text", "fontSize": 8, "fontWeight": "bold"}, "encoding": {"text": {"field": "r", "type": "nominal"}, "color": {"field": "r", "type": "quantitative", "scale": {"type": "linear", "domain": [-1,-0.8,-0.6,-0.4,-0.2,0,0.2,0.4,0.6,0.8,1], "range": ["#67001F","#B2182B","#D6604D","#F4A582","#FDDBC7","#FFFFFF","#D1E5F0","#92C5DE","#4393C3","#2166AC","#053061"]}, "legend": {"title": null, "values": [-1,-0.8,-0.6,-0.4,-0.2,0,0.2,0.4,0.6,0.8,1], "gradientLength": 123, "labelExpr": "'' + datum.value"}}}},
  {"transform": [{"filter": "datum.k == 'd'"}], "mark": {"type": "text", "fontSize": 8.5, "color": "#d42a2a"}, "encoding": {"text": {"field": "y", "type": "nominal"}}},
  {"transform": [{"filter": "datum.k == 'e'"}], "mark": {"type": "point", "filled": true, "opacity": 1, "size": 650, "strokeWidth": 0.8}, "encoding": {"shape": {"field": "r", "type": "nominal", "scale": {"domain": [0.81,0.82,0.84,0.85,0.87,0.88,0.89,0.9,0.91,0.92,0.94,0.95,0.96,0.97,0.98,0.99,1]}, "legend": null}, "color": {"field": "r", "type": "quantitative"}, "stroke": {"field": "r", "type": "quantitative", "scale": {"type": "linear", "domain": [-1,-0.8,-0.6,-0.4,-0.2,0,0.2,0.4,0.6,0.8,1], "range": ["#67001F","#B2182B","#D6604D","#F4A582","#FDDBC7","#FFFFFF","#D1E5F0","#92C5DE","#4393C3","#2166AC","#053061"]}, "legend": null}}}
 ]},
{"title": {"text": "Sum Entropy", "offset": 6}, "width": 128, "height": 128, "data": {"name": "sen"},
 "encoding": {"x": {"field": "x", "type": "nominal", "axis": null, "scale": {"domain": ["q1","q2","q3","q4","q5"], "paddingInner": 0, "paddingOuter": 0}}, "y": {"field": "y", "type": "nominal", "axis": null, "scale": {"domain": ["q1","q2","q3","q4","q5"], "paddingInner": 0, "paddingOuter": 0}}},
 "layer": [
  {"mark": {"type": "rect", "fill": "#ffffff", "stroke": "#d9d9d9", "strokeWidth": 1}},
  {"transform": [{"filter": "datum.k == 'n'"}], "mark": {"type": "text", "fontSize": 8, "fontWeight": "bold"}, "encoding": {"text": {"field": "r", "type": "nominal"}, "color": {"field": "r", "type": "quantitative", "scale": {"type": "linear", "domain": [-1,-0.8,-0.6,-0.4,-0.2,0,0.2,0.4,0.6,0.8,1], "range": ["#67001F","#B2182B","#D6604D","#F4A582","#FDDBC7","#FFFFFF","#D1E5F0","#92C5DE","#4393C3","#2166AC","#053061"]}, "legend": {"title": null, "values": [-1,-0.8,-0.6,-0.4,-0.2,0,0.2,0.4,0.6,0.8,1], "gradientLength": 128, "labelExpr": "'' + datum.value"}}}},
  {"transform": [{"filter": "datum.k == 'd'"}], "mark": {"type": "text", "fontSize": 8.5, "color": "#d42a2a"}, "encoding": {"text": {"field": "y", "type": "nominal"}}},
  {"transform": [{"filter": "datum.k == 'e'"}], "mark": {"type": "point", "filled": true, "opacity": 1, "size": 655, "strokeWidth": 0.8}, "encoding": {"shape": {"field": "r", "type": "nominal", "scale": {"domain": [0.81,0.82,0.84,0.85,0.87,0.88,0.89,0.9,0.91,0.92,0.94,0.95,0.96,0.97,0.98,0.99,1]}, "legend": null}, "color": {"field": "r", "type": "quantitative"}, "stroke": {"field": "r", "type": "quantitative", "scale": {"type": "linear", "domain": [-1,-0.8,-0.6,-0.4,-0.2,0,0.2,0.4,0.6,0.8,1], "range": ["#67001F","#B2182B","#D6604D","#F4A582","#FDDBC7","#FFFFFF","#D1E5F0","#92C5DE","#4393C3","#2166AC","#053061"]}, "legend": null}}}
 ]}
],
"spacing": 37,
"resolve": {"scale": {"color": "independent"}}
}
]
}
],
"config": {
 "view": {"stroke": null},
 "title": {"font": "Liberation Serif", "fontSize": 11.5, "fontWeight": "bold", "color": "#1a1a1a"},
 "text": {"font": "Liberation Sans"},
 "legend": {"gradientThickness": 5, "labelFont": "Liberation Sans", "labelFontSize": 6, "labelColor": "#333333", "offset": 1, "padding": 0, "labelOffset": 1.5, "labelOverlap": false, "gradientStrokeWidth": 0},
 "range": {"symbol": [
  "M-0.837,0.837A1.185,0.384,-45,0,1,0.837,-0.837A1.185,0.384,-45,0,1,-0.837,0.837Z",
  "M-0.840,0.840A1.188,0.373,-45,0,1,0.840,-0.840A1.188,0.373,-45,0,1,-0.840,0.840Z",
  "M-0.844,0.844A1.194,0.352,-45,0,1,0.844,-0.844A1.194,0.352,-45,0,1,-0.844,0.844Z",
  "M-0.846,0.846A1.197,0.341,-45,0,1,0.846,-0.846A1.197,0.341,-45,0,1,-0.846,0.846Z",
  "M-0.851,0.851A1.204,0.317,-45,0,1,0.851,-0.851A1.204,0.317,-45,0,1,-0.851,0.851Z",
  "M-0.853,0.853A1.207,0.305,-45,0,1,0.853,-0.853A1.207,0.305,-45,0,1,-0.853,0.853Z",
  "M-0.856,0.856A1.211,0.292,-45,0,1,0.856,-0.856A1.211,0.292,-45,0,1,-0.856,0.856Z",
  "M-0.858,0.858A1.214,0.278,-45,0,1,0.858,-0.858A1.214,0.278,-45,0,1,-0.858,0.858Z",
  "M-0.860,0.860A1.217,0.264,-45,0,1,0.860,-0.860A1.217,0.264,-45,0,1,-0.860,0.860Z",
  "M-0.862,0.862A1.220,0.249,-45,0,1,0.862,-0.862A1.220,0.249,-45,0,1,-0.862,0.862Z",
  "M-0.867,0.867A1.227,0.216,-45,0,1,0.867,-0.867A1.227,0.216,-45,0,1,-0.867,0.867Z",
  "M-0.869,0.869A1.230,0.197,-45,0,1,0.869,-0.869A1.230,0.197,-45,0,1,-0.869,0.869Z",
  "M-0.871,0.871A1.233,0.176,-45,0,1,0.871,-0.871A1.233,0.176,-45,0,1,-0.871,0.871Z",
  "M-0.873,0.873A1.236,0.152,-45,0,1,0.873,-0.873A1.236,0.152,-45,0,1,-0.873,0.873Z",
  "M-0.876,0.876A1.239,0.125,-45,0,1,0.876,-0.876A1.239,0.125,-45,0,1,-0.876,0.876Z",
  "M-0.878,0.878A1.242,0.088,-45,0,1,0.878,-0.878A1.242,0.088,-45,0,1,-0.878,0.878Z",
  "M-0.880,0.880A1.245,0.05,-45,0,1,0.880,-0.880A1.245,0.05,-45,0,1,-0.880,0.880Z"
 ]}
}
}
